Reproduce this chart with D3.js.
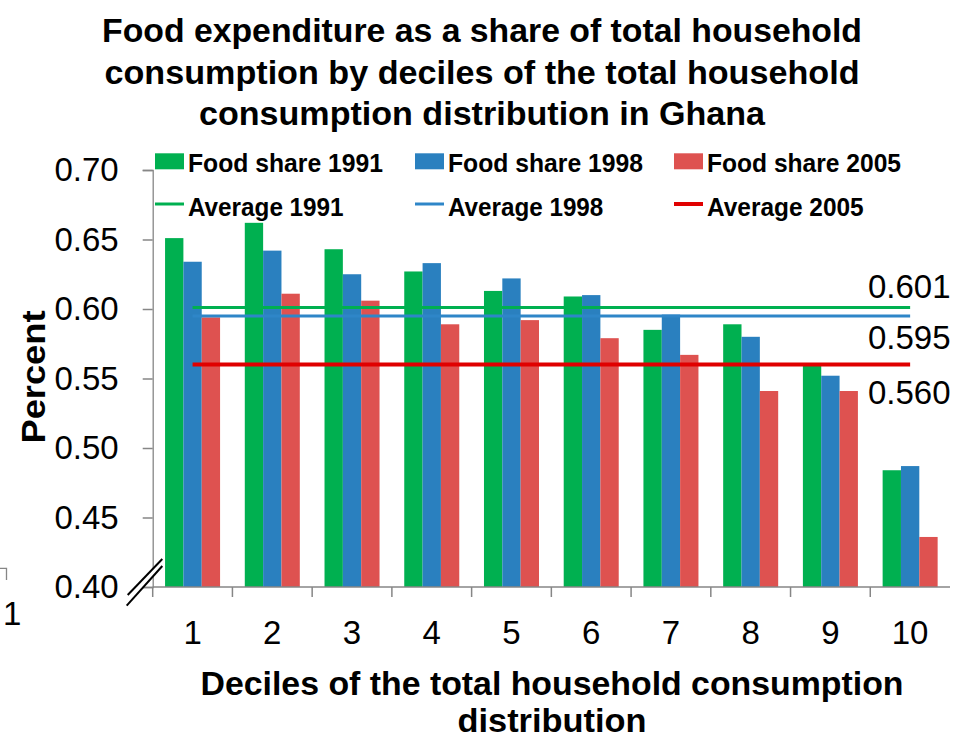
<!DOCTYPE html>
<html>
<head>
<meta charset="utf-8">
<script src="https://cdn.jsdelivr.net/npm/d3@7"></script>
<style>
  html, body { margin: 0; padding: 0; background: #fff; }
  svg { display: block; font-family: "Liberation Sans", Arial, sans-serif; }
</style>
</head>
<body>
<svg id="chart" width="958" height="739"></svg>
<script>
// ---------------- data ----------------
const categories = ["1", "2", "3", "4", "5", "6", "7", "8", "9", "10"];
const share1991 = [0.651, 0.662, 0.643, 0.627, 0.613, 0.609, 0.585, 0.589, 0.561, 0.484];
const share1998 = [0.634, 0.642, 0.625, 0.633, 0.622, 0.610, 0.596, 0.580, 0.552, 0.487];
const share2005 = [0.594, 0.611, 0.606, 0.589, 0.592, 0.579, 0.567, 0.541, 0.541, 0.436];
const averages = [0.601, 0.595, 0.560];
const averageLabels = ["0.601", "0.595", "0.560"];
const seriesNames = ["Food share 1991", "Food share 1998", "Food share 2005"];
const averageNames = ["Average 1991", "Average 1998", "Average 2005"];
const yTicks = [0.40, 0.45, 0.50, 0.55, 0.60, 0.65, 0.70];
const titleLines = [
  "Food expenditure as a share of total household",
  "consumption by deciles of the total household",
  "consumption distribution in Ghana"
];
const xTitleLines = ["Deciles of the total household consumption", "distribution"];
const yTitle = "Percent";

// ---------------- styles ----------------
const barColors = ["#00B050", "#2A80BF", "#DE5250"];
const lineColors = ["#00B050", "#2E86C8", "#E00000"];
const lineWidths = [3, 3, 4];
const FONT = '"Liberation Sans", Arial, sans-serif';

const svg = d3.select("#chart");

// ---------------- scales ----------------
const x = d3.scaleBand().domain(categories).range([152.7, 950]).paddingInner(0.31).paddingOuter(0.155);
const x1 = d3.scaleBand().domain(d3.range(3)).range([0, x.bandwidth()]);
const y = d3.scaleLinear().domain([0.40, 0.70]).range([587, 170]);

const seriesData = [share1991, share1998, share2005];

// ---------------- bars ----------------
const groups = svg.append("g").selectAll("g")
  .data(categories)
  .join("g")
  .attr("transform", d => `translate(${x(d)},0)`);

groups.selectAll("rect")
  .data((d, i) => seriesData.map((s, k) => ({ k, v: s[i] })))
  .join("rect")
  .attr("x", d => x1(d.k))
  .attr("width", x1.bandwidth())
  .attr("y", d => y(d.v))
  .attr("height", d => y(0.40) - y(d.v))
  .attr("fill", d => barColors[d.k]);

// ---------------- average lines ----------------
const xFirst = x(categories[0]) + x.bandwidth() / 2;
const xLast = x(categories[categories.length - 1]) + x.bandwidth() / 2;
svg.append("g").selectAll("line")
  .data(averages)
  .join("line")
  .attr("x1", xFirst)
  .attr("x2", xLast)
  .attr("y1", d => y(d))
  .attr("y2", d => y(d))
  .attr("stroke", (d, i) => lineColors[i])
  .attr("stroke-width", (d, i) => lineWidths[i]);

// average labels
const labelBaselines = [297.5, 349, 404];
svg.append("g").selectAll("text")
  .data(averageLabels)
  .join("text")
  .attr("x", 868)
  .attr("y", (d, i) => labelBaselines[i])
  .attr("font-size", 33)
  .attr("fill", "#000")
  .text(d => d);

// ---------------- axes ----------------
const yAxis = d3.axisLeft(y).tickValues(yTicks).tickSize(10).tickPadding(24)
  .tickFormat(d3.format(".2f"));
const gy = svg.append("g").attr("transform", "translate(152.7,0)").call(yAxis);
gy.select(".domain").attr("stroke", "#868686").attr("stroke-width", 1.3);
gy.selectAll(".tick line").attr("stroke", "#868686").attr("stroke-width", 1.5);
gy.selectAll(".tick text").attr("font-size", 33).attr("font-family", FONT).attr("fill", "#000");

// x baseline
svg.append("line")
  .attr("x1", x.range()[0]).attr("x2", x.range()[1])
  .attr("y1", y(0.40)).attr("y2", y(0.40))
  .attr("stroke", "#868686").attr("stroke-width", 1.5);

// x ticks at category boundaries
const halfGap = (x.step() - x.bandwidth()) / 2;
const boundaries = categories.map(c => x(c) - halfGap);
svg.append("g").selectAll("line")
  .data(boundaries)
  .join("line")
  .attr("x1", d => d).attr("x2", d => d)
  .attr("y1", y(0.40)).attr("y2", y(0.40) + 10)
  .attr("stroke", "#868686").attr("stroke-width", 1.5);

// x tick labels
svg.append("g").selectAll("text")
  .data(categories)
  .join("text")
  .attr("x", d => x(d) + x.bandwidth() / 2)
  .attr("y", 644)
  .attr("text-anchor", "middle")
  .attr("font-size", 33)
  .text(d => d);

// axis break marks
svg.append("path")
  .attr("d", "M127.7,595 L162.3,559 L162.3,565 L126.7,605.7 Z")
  .attr("fill", "#fff");
svg.append("line").attr("x1", 127.7).attr("y1", 595).attr("x2", 162.3).attr("y2", 559)
  .attr("stroke", "#000").attr("stroke-width", 2);
svg.append("line").attr("x1", 126.7).attr("y1", 605.7).attr("x2", 162.3).attr("y2", 566)
  .attr("stroke", "#000").attr("stroke-width", 2);

// ---------------- titles ----------------
const titleBaselines = [42, 84, 125];
const titleWidths = [760, 755, 566];
svg.append("g").selectAll("text")
  .data(titleLines)
  .join("text")
  .attr("x", 482)
  .attr("y", (d, i) => titleBaselines[i])
  .attr("text-anchor", "middle")
  .attr("font-size", 34)
  .attr("font-weight", "bold")
  .attr("textLength", (d, i) => titleWidths[i])
  .attr("lengthAdjust", "spacingAndGlyphs")
  .text(d => d);

const xTitleBaselines = [695, 732];
const xTitleWidths = [703, 189];
svg.append("g").selectAll("text")
  .data(xTitleLines)
  .join("text")
  .attr("x", 552)
  .attr("y", (d, i) => xTitleBaselines[i])
  .attr("text-anchor", "middle")
  .attr("font-size", 34)
  .attr("font-weight", "bold")
  .attr("textLength", (d, i) => xTitleWidths[i])
  .attr("lengthAdjust", "spacingAndGlyphs")
  .text(d => d);

svg.append("text")
  .attr("transform", "translate(45,377) rotate(-90)")
  .attr("text-anchor", "middle")
  .attr("font-size", 34)
  .attr("font-weight", "bold")
  .attr("textLength", 133)
  .attr("lengthAdjust", "spacingAndGlyphs")
  .text(yTitle);

// ---------------- legend ----------------
const legendX = [155, 415, 674];
const shareTextW = [195, 195, 194];
const avgTextW = [155.6, 155.3, 156.7];
const leg = svg.append("g");
seriesNames.forEach((name, i) => {
  leg.append("rect")
    .attr("x", legendX[i]).attr("y", 153.3)
    .attr("width", 29).attr("height", 16)
    .attr("fill", barColors[i]);
  leg.append("text")
    .attr("x", legendX[i] + 33).attr("y", 171.5)
    .attr("font-size", 26).attr("font-weight", "bold")
    .attr("textLength", shareTextW[i]).attr("lengthAdjust", "spacingAndGlyphs")
    .text(name);
});
averageNames.forEach((name, i) => {
  leg.append("line")
    .attr("x1", legendX[i]).attr("x2", legendX[i] + 29)
    .attr("y1", 204).attr("y2", 204)
    .attr("stroke", lineColors[i]).attr("stroke-width", lineWidths[i]);
  leg.append("text")
    .attr("x", legendX[i] + 33).attr("y", 215.5)
    .attr("font-size", 26).attr("font-weight", "bold")
    .attr("textLength", avgTextW[i]).attr("lengthAdjust", "spacingAndGlyphs")
    .text(name);
});

// ---------------- stray fragment at left edge ----------------
svg.append("path")
  .attr("d", "M0,568.3 L6.5,568.3 L6.5,580")
  .attr("fill", "none").attr("stroke", "#868686").attr("stroke-width", 1.3);
svg.append("text")
  .attr("x", 3).attr("y", 625)
  .attr("font-size", 33)
  .text("1");
</script>
</body>
</html>
